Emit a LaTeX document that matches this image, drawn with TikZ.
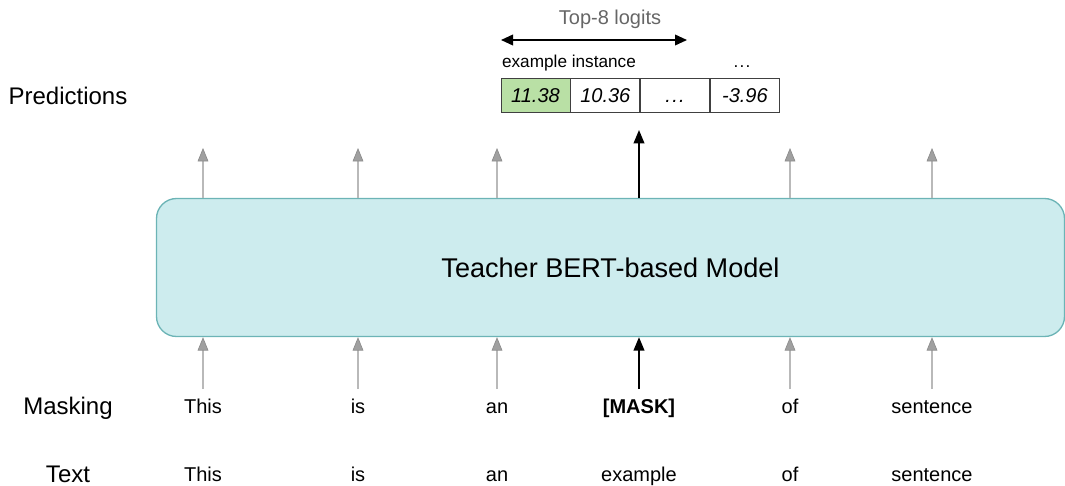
\documentclass[tikz,border=0pt]{standalone}
\usepackage{fontspec}
\setmainfont{Liberation Sans}
\usetikzlibrary{arrows.meta}
\definecolor{modelfill}{RGB}{205,236,238}
\definecolor{modeldraw}{RGB}{108,180,182}
\definecolor{greencell}{RGB}{185,224,165}
\definecolor{lightline}{RGB}{185,185,185}
\definecolor{headgray}{RGB}{160,160,160}
\definecolor{headedge}{RGB}{140,140,140}
\definecolor{labelgray}{RGB}{102,102,102}
\tikzset{
  rowlabel/.style={font=\fontsize{18}{20}\selectfont, inner sep=0pt, text height=13pt, text depth=0pt},
  word/.style={font=\fontsize{15}{17}\selectfont, inner sep=0pt, text height=11pt, text depth=0pt},
  cell/.style={draw=black!75, line width=0.6pt, minimum width=51.75pt, minimum height=25.5pt,
    inner sep=0pt, text height=11pt, text depth=0pt, font=\fontsize{15}{17}\selectfont\itshape},
  grayarrow/.style={draw=lightline, line width=0.9pt,
    -{Triangle[length=10pt, width=8pt, fill=headgray, color=headedge, line width=0.5pt]}},
  blackarrow/.style={draw=black, line width=1.2pt,
    -{Triangle[length=10pt, width=8pt, fill=black]}},
}
\begin{document}
\begin{tikzpicture}[x=0.75pt, y=-0.75pt]
\useasboundingbox (0,0) rectangle (1065,486);

% encoder block
\node[draw=modeldraw, fill=modelfill, line width=1pt, rounded corners=15pt,
  minimum width=681pt, minimum height=103.5pt, inner sep=0pt,
  font=\fontsize{20.3}{22}\selectfont] (model) at (610.5,267.5) {Teacher BERT-based Model};

% row labels
\node[rowlabel] (predlab) at (68,96) {Predictions};
\node[rowlabel] (masklab) at (68,406) {Masking};
\node[rowlabel] (textlab) at (68,474) {Text};

% masked input and original text
\foreach \n/\x/\m/\t in {1/203/This/This, 2/358/is/is, 3/497/an/an, 4/639/{\bfseries [MASK]}/example, 5/790/of/of, 6/932/sentence/sentence}{
  \node[word] (m\n) at (\x,406) {\m};
  \node[word] (t\n) at (\x,474) {\t};
  \coordinate (in\n) at (\x,389);
  \coordinate (out\n) at (\x,148);
}

% inputs into the model
\foreach \n in {1,2,3,5,6}{
  \draw[grayarrow] (in\n) -- (in\n |- model.south);
  \draw[grayarrow] (in\n |- model.north) -- (out\n);
}
\draw[blackarrow] (in4) -- (in4 |- model.south);

% prediction cells
\node[cell, fill=greencell] (c1) at (535.5,95.5) {11.38};
\node[cell, anchor=west] (c2) at (c1.east) {10.36};
\node[cell, anchor=west] (c3) at (c2.east) {.\kern1pt.\kern1pt.};
\node[cell, anchor=west] (c4) at (c3.east) {-3.96};

\coordinate (tip4) at (639,130);
\draw[blackarrow] (in4 |- model.north) -- (tip4);

% cell captions
\node[font=\fontsize{12.9}{14}\selectfont, inner sep=0pt, text height=9.5pt, text depth=0pt] (ex) at (569,61) {example instance};
\node[font=\fontsize{12.9}{14}\selectfont, inner sep=0pt, text height=9.5pt, text depth=0pt] (dots) at (742,61) {.\kern1pt.\kern1pt.};

% top-k span
\coordinate (spanL) at (501,40);
\coordinate (spanR) at (687,40);
\draw[line width=1.2pt, {Triangle[length=9pt, width=8pt]}-{Triangle[length=9pt, width=8pt]}] (spanL) -- (spanR);
\node[font=\fontsize{15}{17}\selectfont, text=labelgray, inner sep=0pt, text height=11pt, text depth=0pt] (topk) at (610,17) {Top-8 logits};
\end{tikzpicture}
\end{document}
